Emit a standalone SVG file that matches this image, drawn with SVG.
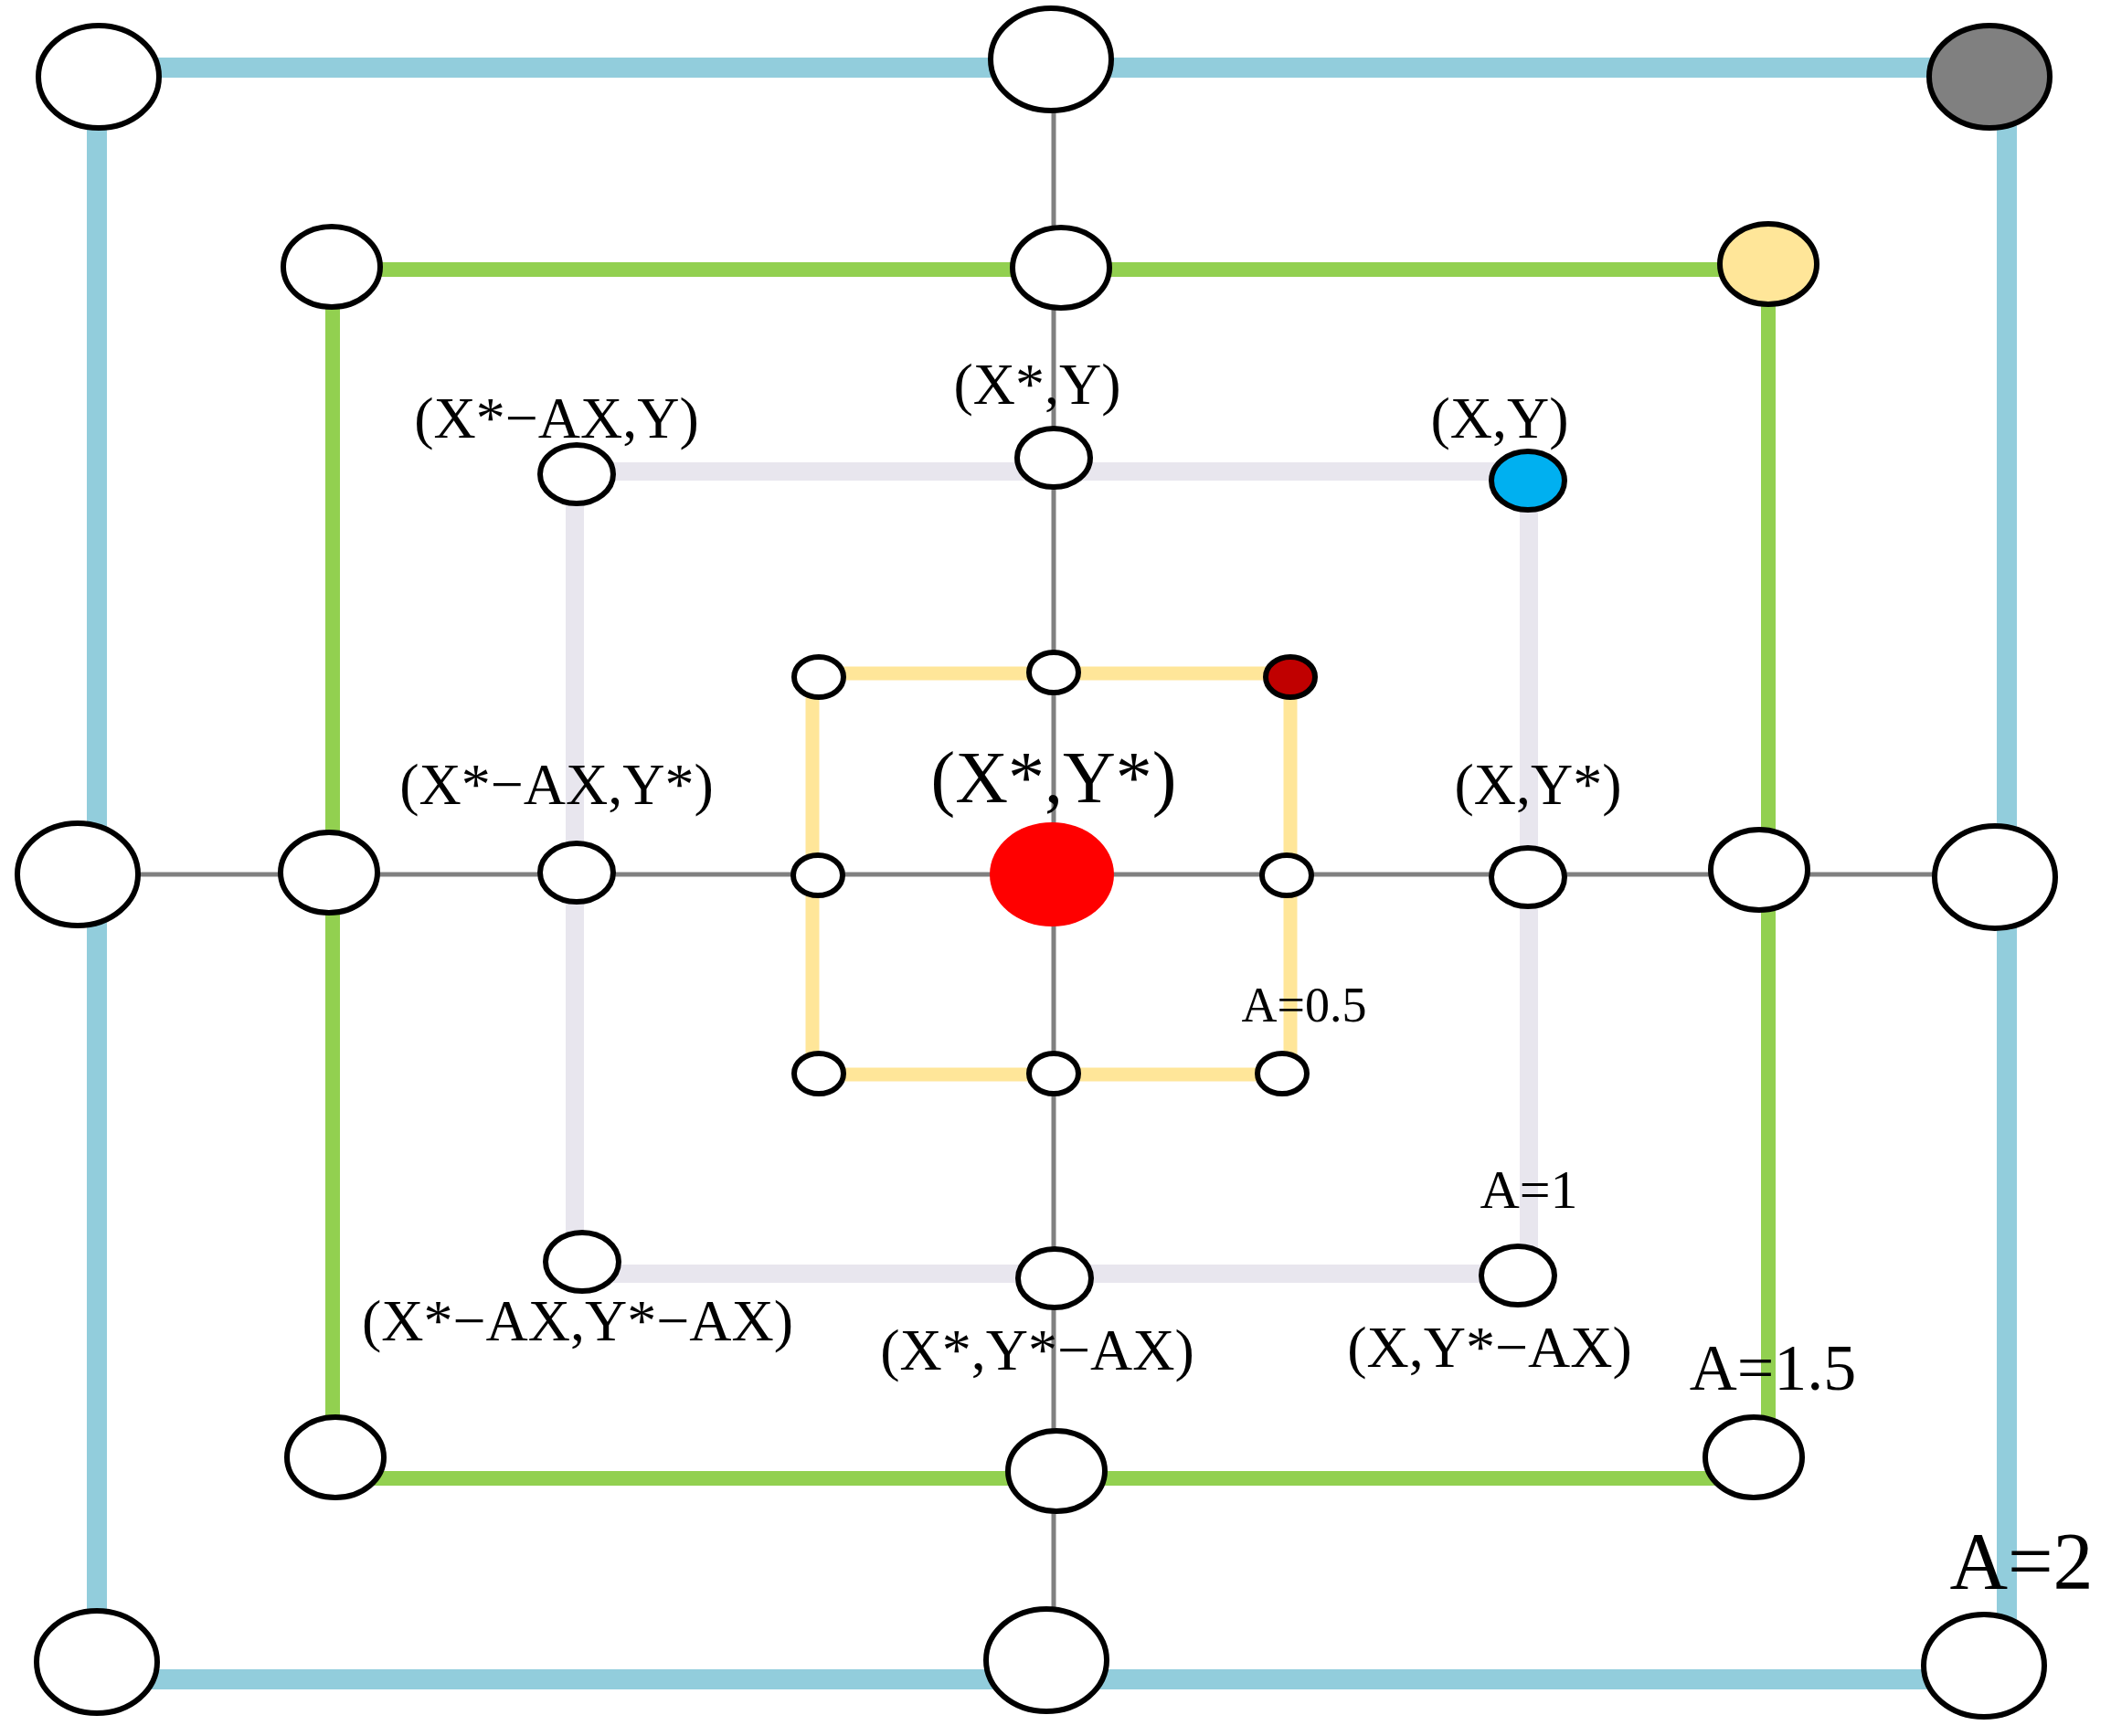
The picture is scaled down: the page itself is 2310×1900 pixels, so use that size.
<svg xmlns="http://www.w3.org/2000/svg" width="2310" height="1900" viewBox="0 0 2310 1900">
<style>
.n{fill:#fff;stroke:#000;stroke-width:6}
.t{font-family:"Liberation Serif","DejaVu Serif",serif;font-size:64px;text-anchor:middle;fill:#000}
</style>
<rect width="2310" height="1900" fill="#fff"/>
<g id="connectors" fill="none">
<line x1="1153" y1="65" x2="1153" y2="1817" stroke="#808080" stroke-width="5"/>
<line x1="85" y1="957" x2="2183" y2="957" stroke="#808080" stroke-width="5"/>
<rect x="106" y="74" width="2090" height="1764" stroke="#92CDDC" stroke-width="22"/>
<rect x="364" y="295" width="1571" height="1323" stroke="#92D050" stroke-width="16"/>
<rect x="629" y="516" width="1044" height="878" stroke="#E8E6EE" stroke-width="20"/>
<rect x="889" y="737" width="523" height="439" stroke="#FFE699" stroke-width="15"/>
</g>
<g id="n_a2">
<ellipse class="n" cx="108" cy="84" rx="66" ry="56"/>
<ellipse class="n" cx="1150" cy="65" rx="66" ry="56"/>
<ellipse class="n" cx="2177" cy="84" rx="66" ry="56" style="fill:#808080"/>
<ellipse class="n" cx="85" cy="957" rx="66" ry="56"/>
<ellipse class="n" cx="2183" cy="960" rx="66" ry="56"/>
<ellipse class="n" cx="106" cy="1819" rx="66" ry="56"/>
<ellipse class="n" cx="1145" cy="1817" rx="66" ry="56"/>
<ellipse class="n" cx="2171" cy="1823" rx="66" ry="56"/>
</g>
<g id="n_a15">
<ellipse class="n" cx="363" cy="292" rx="53" ry="44"/>
<ellipse class="n" cx="1161" cy="293" rx="53" ry="44"/>
<ellipse class="n" cx="1935" cy="289" rx="53" ry="44" style="fill:#FFE699"/>
<ellipse class="n" cx="360" cy="955" rx="53" ry="44"/>
<ellipse class="n" cx="1925" cy="952" rx="53" ry="44"/>
<ellipse class="n" cx="367" cy="1595" rx="53" ry="44"/>
<ellipse class="n" cx="1156" cy="1610" rx="53" ry="44"/>
<ellipse class="n" cx="1919" cy="1595" rx="53" ry="44"/>
</g>
<g id="n_a1">
<ellipse class="n" cx="631" cy="519" rx="40" ry="32"/>
<ellipse class="n" cx="1153" cy="501" rx="40" ry="32"/>
<ellipse class="n" cx="1672" cy="526" rx="40" ry="32" style="fill:#00B0F0"/>
<ellipse class="n" cx="631" cy="955" rx="40" ry="32"/>
<ellipse class="n" cx="1672" cy="960" rx="40" ry="32"/>
<ellipse class="n" cx="637" cy="1381" rx="40" ry="32"/>
<ellipse class="n" cx="1154" cy="1399" rx="40" ry="32"/>
<ellipse class="n" cx="1661" cy="1396" rx="40" ry="32"/>
</g>
<g id="n_a05">
<ellipse class="n" cx="896" cy="741" rx="27" ry="22"/>
<ellipse class="n" cx="1153" cy="736" rx="27" ry="22"/>
<ellipse class="n" cx="1412" cy="741" rx="27" ry="22" style="fill:#C00000"/>
<ellipse class="n" cx="895" cy="958" rx="27" ry="22"/>
<ellipse class="n" cx="1408" cy="958" rx="27" ry="22"/>
<ellipse class="n" cx="896" cy="1175" rx="27" ry="22"/>
<ellipse class="n" cx="1153" cy="1175" rx="27" ry="22"/>
<ellipse class="n" cx="1403" cy="1175" rx="27" ry="22"/>
</g>
<g id="center"><ellipse cx="1151" cy="957" rx="68" ry="57" fill="#FF0000"/></g>
<g id="labels">
<text class="t" x="609" y="479">(X*−AX,Y)</text>
<text class="t" x="1135" y="442">(X*,Y)</text>
<text class="t" x="1641" y="479">(X,Y)</text>
<text class="t" x="1153" y="878" style="font-size:80px">(X*,Y*)</text>
<text class="t" x="609" y="880">(X*−AX,Y*)</text>
<text class="t" x="1683" y="880">(X,Y*)</text>
<text class="t" x="1427" y="1118" style="font-size:54px">A=0.5</text>
<text class="t" x="1673" y="1322" style="font-size:60px">A=1</text>
<text class="t" x="632" y="1467">(X*−AX,Y*−AX)</text>
<text class="t" x="1135" y="1499">(X*,Y*−AX)</text>
<text class="t" x="1630" y="1496">(X,Y*−AX)</text>
<text class="t" x="1940" y="1521" style="font-size:72px">A=1.5</text>
<text class="t" x="2212" y="1738" style="font-size:88px">A=2</text>
</g>
</svg>
